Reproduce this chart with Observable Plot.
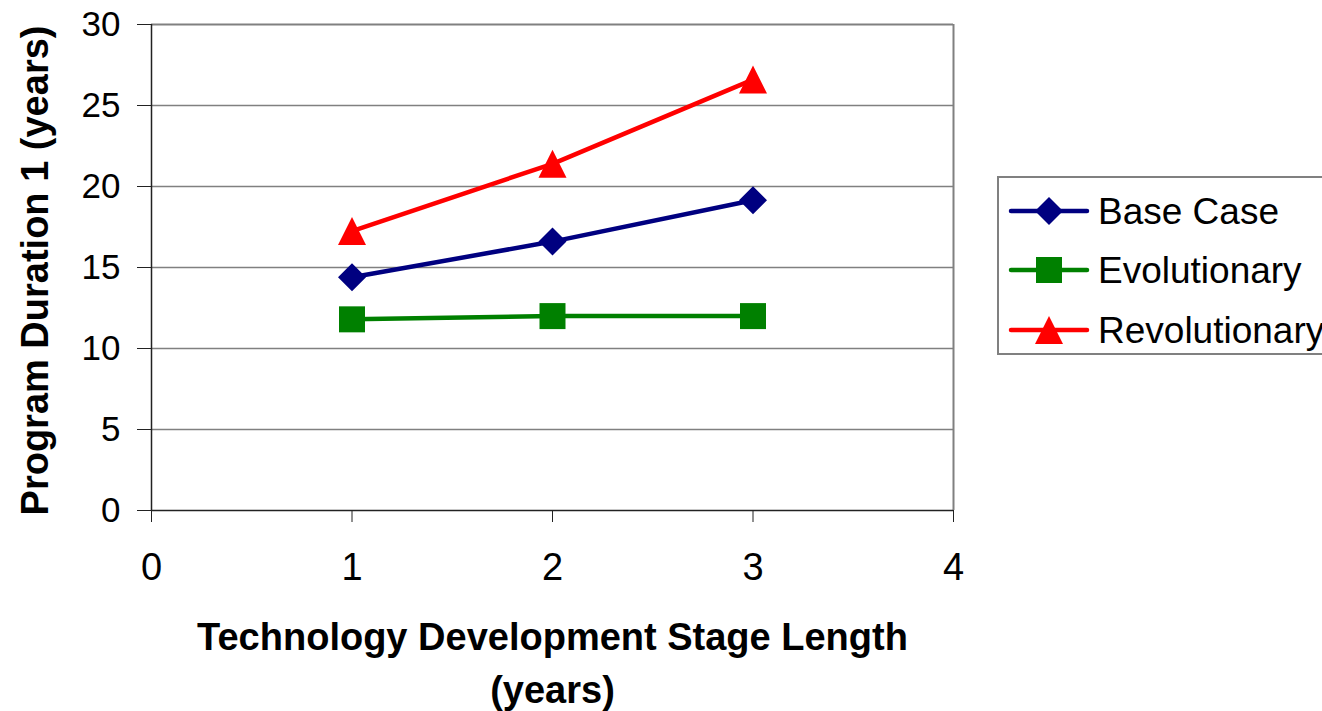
<!DOCTYPE html>
<html>
<head>
<meta charset="utf-8">
<script src="https://cdn.jsdelivr.net/npm/d3@7"></script>
<script src="https://cdn.jsdelivr.net/npm/@observablehq/plot@0.6"></script>
<style>
  html, body { margin: 0; padding: 0; background: #fff; overflow: hidden; }
  #wrap { position: relative; width: 1322px; height: 711px; font-family: "Liberation Sans", Arial, sans-serif; }
  #legend { position: absolute; left: 997px; top: 176px; width: 345px; height: 179px;
            box-sizing: border-box; border: 2px solid #808080; background: #fff; }
  #legend svg { display: block; }
</style>
</head>
<body>
<div id="wrap"><div id="chart"></div><div id="legend"></div></div>
<script>
// Stage length (years) on the x axis
const stageLength = [1, 2, 3];
// Program duration (years) per scenario
const baseCase = [14.4, 16.6, 19.15];
const evolutionary = [11.8, 12.0, 12.0];
const revolutionary = [17.25, 21.4, 26.6];

const seriesNames = ["Base Case", "Evolutionary", "Revolutionary"];
const seriesColors = ["#000080", "#008000", "#ff0000"];

const xTicks = [0, 1, 2, 3, 4];
const yTicks = [0, 5, 10, 15, 20, 25, 30];
const gridValues = [5, 10, 15, 20, 25];

const xTitleLines = ["Technology Development Stage Length", "(years)"];
const yTitle = "Program Duration 1 (years)";

// Marker shapes whose bounding box is centred on the point (half-width = r)
const diamond = {draw(ctx, size) {
  const r = Math.sqrt(size / Math.PI);
  ctx.moveTo(0, -r); ctx.lineTo(r, 0); ctx.lineTo(0, r); ctx.lineTo(-r, 0); ctx.closePath();
}};
const square = {draw(ctx, size) {
  const r = Math.sqrt(size / Math.PI);
  ctx.rect(-r, -r, 2 * r, 2 * r);
}};
const triangle = {draw(ctx, size) {
  const r = Math.sqrt(size / Math.PI);
  ctx.moveTo(0, -r); ctx.lineTo(r, r); ctx.lineTo(-r, r); ctx.closePath();
}};
const symbols = [diamond, square, triangle];
const symbolRadius = [14, 13, 14];

const seriesValues = [baseCase, evolutionary, revolutionary];
const series = seriesNames.map((name, k) =>
  stageLength.map((x, i) => ({name, x, y: seriesValues[k][i]}))
);

const marks = [
  Plot.ruleY(gridValues, {stroke: "#808080", strokeWidth: 1.5}),
  Plot.ruleY([30], {stroke: "#808080", strokeWidth: 2}),
  Plot.ruleX([4], {stroke: "#808080", strokeWidth: 2}),
  Plot.ruleY([0], {stroke: "#222", strokeWidth: 1.5}),
  Plot.ruleX([0], {stroke: "#222", strokeWidth: 1.5}),
  Plot.axisY({ticks: yTicks, tickFormat: d => String(d), tickSize: 14, tickPadding: 17,
    fontSize: 35, stroke: "#222", label: null}),
  Plot.axisX({ticks: xTicks, tickFormat: d => String(d), tickSize: 12, tickPadding: 31,
    fontSize: 38, stroke: "#222", label: null}),
];
series.forEach((data, k) => {
  marks.push(Plot.line(data, {x: "x", y: "y", stroke: seriesColors[k], strokeWidth: 4.5}));
});
series.forEach((data, k) => {
  marks.push(Plot.dot(data, {x: "x", y: "y", fill: seriesColors[k], stroke: "none",
    symbol: symbols[k], r: symbolRadius[k]}));
});
// Axis titles: two-line title under the x axis, rotated title left of the y axis
xTitleLines.forEach((line, i) => {
  marks.push(Plot.text([line], {frameAnchor: "bottom", textAnchor: "middle", lineAnchor: "middle",
    dy: 127 + i * 53, fontSize: 38, fontWeight: "bold", fill: "#000"}));
});
marks.push(
  Plot.text([yTitle], {frameAnchor: "left", textAnchor: "middle", lineAnchor: "middle",
    rotate: -90, dx: -116, dy: 3, fontSize: 38, fontWeight: "bold", fill: "#000"})
);

const chart = Plot.plot({
  width: 1322,
  height: 711,
  marginLeft: 151,
  marginRight: 369,
  marginTop: 24,
  marginBottom: 201,
  x: {domain: [0, 4], axis: null},
  y: {domain: [0, 30], axis: null},
  style: {fontFamily: "'Liberation Sans', Arial, sans-serif", color: "#000", background: "#fff", overflow: "visible"},
  marks
});
document.getElementById("chart").append(chart);

// Legend: line swatch with marker, then the series name
const leg = d3.select("#legend").append("svg").attr("width", 345).attr("height", 175);
const rowY = [33, 92, 152];
seriesNames.forEach((name, k) => {
  const g = leg.append("g").attr("transform", `translate(0,${rowY[k]})`);
  g.append("line").attr("x1", 12).attr("x2", 88).attr("y1", 0).attr("y2", 0)
    .attr("stroke", seriesColors[k]).attr("stroke-width", 4.5).attr("stroke-linecap", "round");
  g.append("path").attr("transform", "translate(50,0)")
    .attr("d", d3.symbol(symbols[k], symbolRadius[k] ** 2 * Math.PI)())
    .attr("fill", seriesColors[k]);
  g.append("text").attr("x", 99).attr("y", 13).attr("font-size", 37)
    .attr("font-family", "'Liberation Sans', Arial, sans-serif").attr("fill", "#000").text(name);
});
</script>
</body>
</html>
